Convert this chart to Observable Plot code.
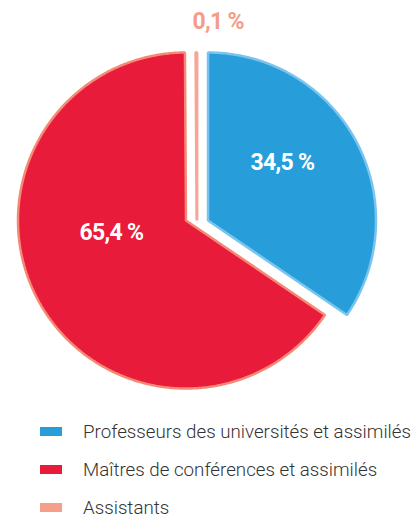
<!DOCTYPE html>
<html>
<head>
<meta charset="utf-8">
<script src="https://cdn.jsdelivr.net/npm/d3@7"></script>
<script src="https://cdn.jsdelivr.net/npm/@observablehq/plot@0.6"></script>
<style>
  html, body { margin: 0; padding: 0; background: #fff; overflow: hidden; }
  #chart { width: 416px; }
  .legend { padding: 12px 0 0 40px; font-family: "Roboto", sans-serif; font-weight: 300; font-size: 19px; color: #333; }
  .legend .row { display: flex; align-items: center; height: 38px; white-space: nowrap; }
  .legend .sw { display: inline-block; flex: none; width: 22px; height: 9px; margin-right: 21px; }
  .legend .lab { display: inline-block; transform-origin: 0 50%; }
</style>
</head>
<body>
<div id="chart"></div>
<script>
// ---- data ----
const categories = ["Professeurs des universités et assimilés", "Maîtres de conférences et assimilés", "Assistants"];
const values = [34.5, 65.4, 0.1];
const labels = ["34,5 %", "65,4 %", "0,1 %"];
const fillColors = ["#279dd9", "#e91b3a", "#f8b3a4"];
const strokeColors = ["#79c5ef", "#f48a76", "#f7a594"];

// ---- layout ----
const W = 416, H = 400;
const CX = 196.5, CY = 220, R = 168, EXPLODE = 11;
const clamp = v => Math.max(-1, Math.min(1, v));

const arcs = d3.pie().sort(null).value(d => d)(values);
const slices = arcs.map((a, i) => {
  const mid = (a.startAngle + a.endAngle) / 2;
  const cx = CX + EXPLODE * clamp(3 * Math.sin(mid));
  return {i, a, mid, cx, cy: CY};
});

// polygon vertices of each slice (center, arc samples)
const pts = [];
for (const s of slices) {
  pts.push({k: s.i, x: s.cx, y: s.cy});
  const n = Math.max(2, Math.ceil((s.a.endAngle - s.a.startAngle) / 0.01));
  for (let j = 0; j <= n; j++) {
    const t = s.a.startAngle + (s.a.endAngle - s.a.startAngle) * j / n;
    pts.push({k: s.i, x: s.cx + R * Math.sin(t), y: s.cy - R * Math.cos(t)});
  }
}

// label placement: angle shift (rad) and radius factor relative to slice mid-angle
const labelTweak = [{da: -0.17, r: 0.56}, {da: 0.33, r: 0.45}, {da: 0.11, r: 1.19}];
const labelData = slices.map(s => {
  const t = s.mid + labelTweak[s.i].da;
  const r = R * labelTweak[s.i].r;
  return {k: s.i, text: labels[s.i], x: s.cx + r * Math.sin(t), y: s.cy - r * Math.cos(t)};
});

const marks = slices.map(s => Plot.line(pts, {
  filter: d => d.k === s.i, x: "x", y: "y",
  fill: fillColors[s.i], stroke: strokeColors[s.i], strokeWidth: s.i === 2 ? 3 : 2.5,
  curve: "linear-closed", strokeLinejoin: "miter"
}));
marks.push(Plot.text(labelData, {
  filter: d => d.k < 2, x: "x", y: "y", text: "text",
  fill: "white", fontSize: 23, fontWeight: "bold", fontFamily: "Roboto, sans-serif"
}));
marks.push(Plot.text(labelData, {
  filter: d => d.k === 2, x: "x", y: "y", text: "text",
  fill: "#f59c88", fontSize: 23, fontWeight: "bold", fontFamily: "Roboto, sans-serif"
}));

const chart = Plot.plot({
  width: W, height: H,
  margin: 0,
  x: {domain: [0, W], range: [0, W], axis: null},
  y: {domain: [0, H], range: [0, H], axis: null},
  marks
});
chart.style.letterSpacing = "-0.7px";
document.getElementById("chart").appendChild(chart);

// legend
const legend = document.createElement("div");
legend.className = "legend";
const labs = [];
categories.forEach((c, i) => {
  const row = document.createElement("div");
  row.className = "row";
  const sw = document.createElement("span");
  sw.className = "sw";
  sw.style.background = i === 2 ? "#f59f8b" : fillColors[i];
  row.appendChild(sw);
  const t = document.createElement("span");
  t.className = "lab";
  t.textContent = c;
  row.appendChild(t);
  labs.push(t);
  legend.appendChild(row);
});
document.getElementById("chart").appendChild(legend);
// condense legend text to the reference's narrow face
const widest = Math.max(...labs.map(t => t.getBoundingClientRect().width));
const k = Math.min(1, 328 / widest);
labs.forEach(t => t.style.transform = `scaleX(${k})`);
</script>
</body>
</html>
